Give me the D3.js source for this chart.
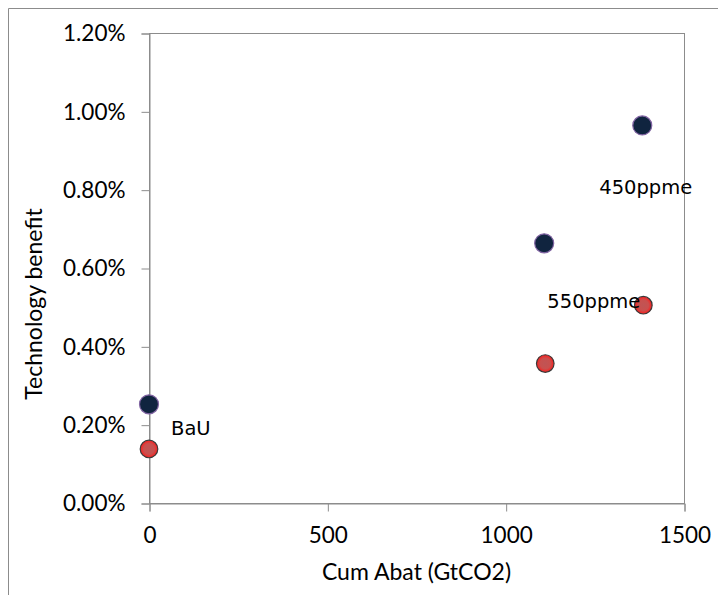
<!DOCTYPE html>
<html>
<head>
<meta charset="utf-8">
<script src="https://cdn.jsdelivr.net/npm/d3@7"></script>
<style>
  html, body { margin: 0; padding: 0; background: #fff; }
  svg { display: block; }
  .tick text { font-family: Lato, "Open Sans", sans-serif; }
</style>
</head>
<body>
<svg id="chart" width="718" height="595"></svg>
<script>
// Cumulative abatement (GtCO2) against technology benefit (%)
const xNavy = [0, 1108, 1383];
const yNavy = [0.252, 0.663, 0.964];
const xRed = [0, 1111, 1386];
const yRed = [0.138, 0.356, 0.505];
const labelTexts = ["BaU", "450ppme", "550ppme"];
const xTicks = [0, 500, 1000, 1500];
const yTicks = [0, 0.2, 0.4, 0.6, 0.8, 1.0, 1.2];

const svg = d3.select("#chart");
const W = 718, H = 595;
const plot = { left: 149, right: 684, top: 33, bottom: 503 };

const x = d3.scaleLinear().domain([0, 1500]).range([plot.left, plot.right]);
const y = d3.scaleLinear().domain([0, 1.2]).range([plot.bottom, plot.top]);

const grey = "#8c8c8c";
const font = "Lato, 'Open Sans', sans-serif";

// outer chart frame (top and left edges visible)
svg.append("line").attr("x1", 8.5).attr("x2", W).attr("y1", 8.5).attr("y2", 8.5)
  .attr("stroke", grey).attr("stroke-width", 1);
svg.append("line").attr("x1", 8.5).attr("x2", 8.5).attr("y1", 8.5).attr("y2", H)
  .attr("stroke", grey).attr("stroke-width", 1);

// plot area border
svg.append("rect")
  .attr("x", plot.left + 0.5).attr("y", plot.top + 0.5)
  .attr("width", plot.right - plot.left).attr("height", plot.bottom - plot.top)
  .attr("fill", "none").attr("stroke", grey).attr("stroke-width", 1);

// axes
const yAxis = d3.axisLeft(y).tickValues(yTicks).tickSize(8).tickPadding(16)
  .tickFormat(d => d.toFixed(2) + "%");
const gy = svg.append("g").attr("transform", `translate(${plot.left + 0.5},0.5)`).call(yAxis);

const xAxis = d3.axisBottom(x).tickValues(xTicks).tickSize(8).tickPadding(16)
  .tickFormat(d3.format("d"));
const gx = svg.append("g").attr("transform", `translate(0.5,${plot.bottom + 0.5})`).call(xAxis);

[gx, gy].forEach(g => {
  g.select(".domain").attr("stroke", grey);
  g.selectAll(".tick line").attr("stroke", grey);
  g.selectAll(".tick text").attr("fill", "#000").style("font-size", "22.5px");
});

// axis titles
svg.append("text")
  .attr("x", (plot.left + plot.right) / 2).attr("y", 580)
  .attr("text-anchor", "middle")
  .style("font-family", font).style("font-size", "23px")
  .text("Cum Abat (GtCO2)");

svg.append("text")
  .attr("transform", "translate(42,304) rotate(-90)")
  .attr("text-anchor", "middle")
  .style("font-family", font).style("font-size", "23px")
  .text("Technology benefit");

// red marker shading
const defs = svg.append("defs");
const grad = defs.append("radialGradient").attr("id", "redFill");
grad.append("stop").attr("offset", "0%").attr("stop-color", "#c05454");
grad.append("stop").attr("offset", "60%").attr("stop-color", "#c9504e");
grad.append("stop").attr("offset", "100%").attr("stop-color", "#ff1a1a");

const navyPts = xNavy.map((v, i) => ({ px: x(v), py: y(yNavy[i]) }));
const redPts = xRed.map((v, i) => ({ px: x(v), py: y(yRed[i]) }));

// navy series
svg.append("g").selectAll("circle")
  .data(navyPts)
  .join("circle")
  .attr("cx", d => d.px).attr("cy", d => d.py).attr("r", 9.5)
  .attr("fill", "#10243f").attr("stroke", "#8064a2").attr("stroke-width", 1.2);

// red series
svg.append("g").selectAll("circle")
  .data(redPts)
  .join("circle")
  .attr("cx", d => d.px).attr("cy", d => d.py).attr("r", 8.8)
  .attr("fill", "url(#redFill)").attr("stroke", "#3a3a3a").attr("stroke-width", 1.2);

// data labels, each placed relative to the marker it belongs to
const labelAnchors = [
  { pt: navyPts[0], dx: 22, dy: 31 },
  { pt: navyPts[2], dx: -43, dy: 69 },
  { pt: redPts[2], dx: -96, dy: 3 }
];
svg.append("g").selectAll("text")
  .data(labelTexts)
  .join("text")
  .attr("x", (d, i) => labelAnchors[i].pt.px + labelAnchors[i].dx)
  .attr("y", (d, i) => labelAnchors[i].pt.py + labelAnchors[i].dy)
  .style("font-family", "'DejaVu Sans', sans-serif").style("font-size", "19.5px")
  .attr("fill", "#000")
  .text(d => d);
</script>
</body>
</html>
